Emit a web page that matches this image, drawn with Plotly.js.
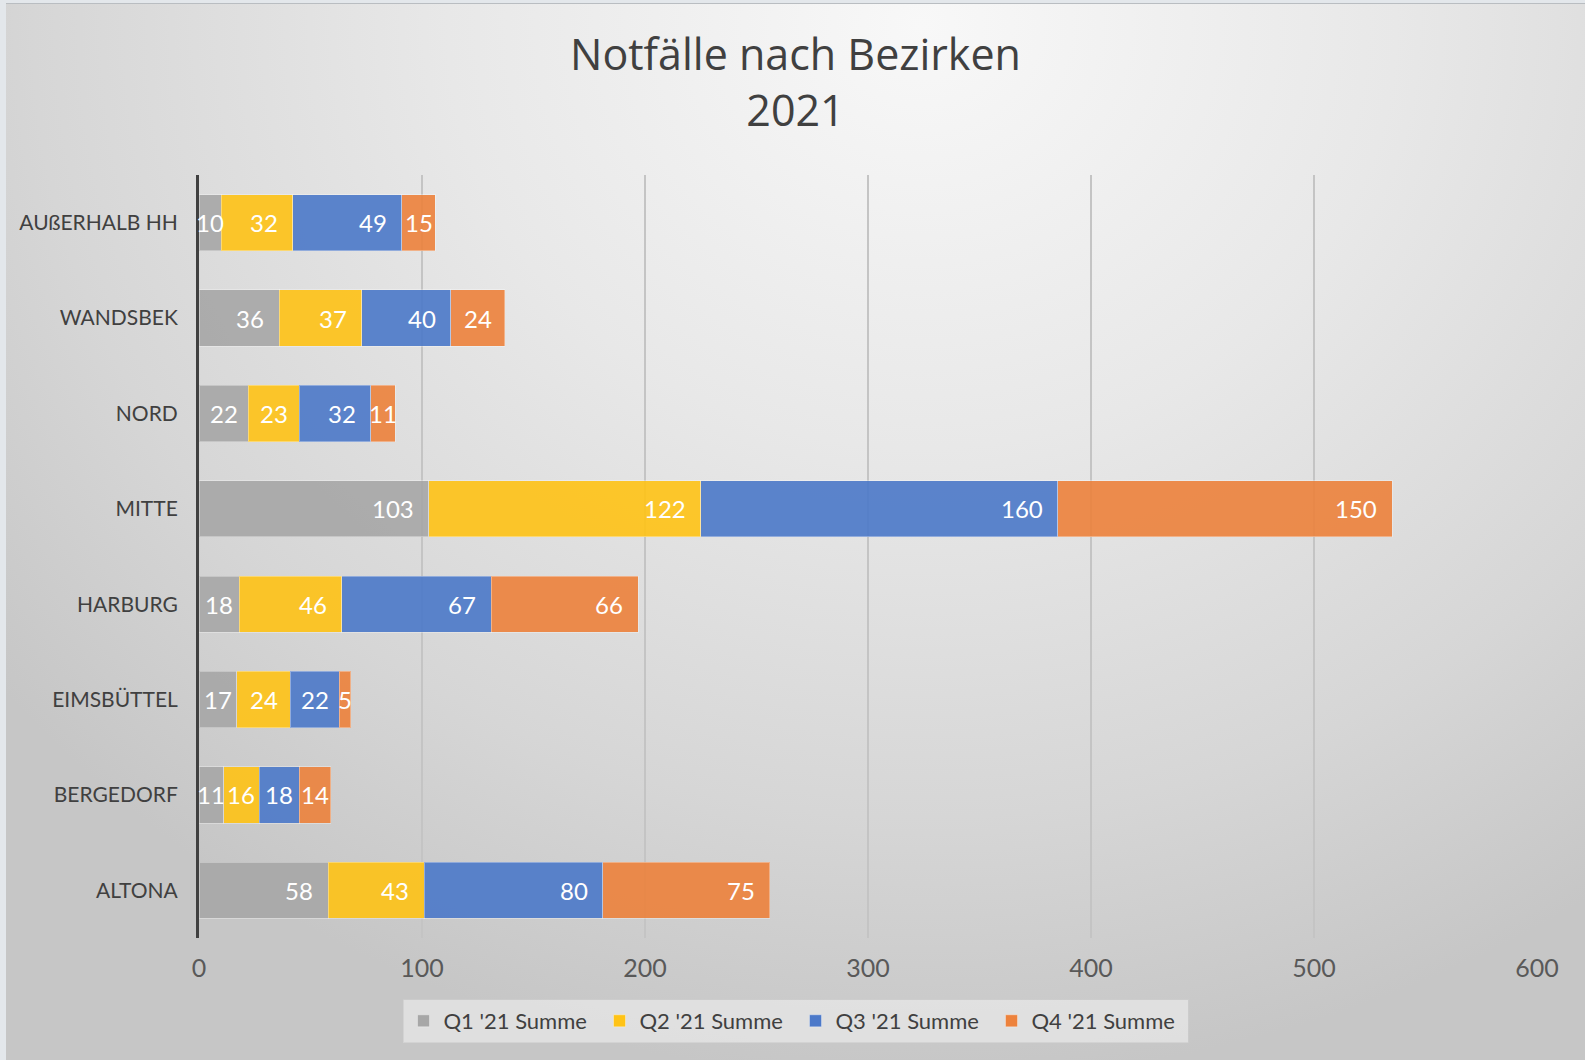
<!DOCTYPE html>
<html><head><meta charset="utf-8">
<script src="https://cdn.plot.ly/plotly-3.0.1.min.js"></script>
<style>
html,body{margin:0;padding:0;width:1585px;height:1060px;overflow:hidden;background:#e3e7eb;}
#frame{position:absolute;left:6px;top:4px;width:1579px;height:1056px;
background: radial-gradient(ellipse 75% 100% at 58% 2%, #f8f8f8 0%, #e8e8e8 40%, #d6d6d6 75%, #c6c6c6 100%);}
#topline{position:absolute;left:6px;top:3px;width:1579px;height:1px;background:#b9bdc1;}
#chart{position:absolute;left:6px;top:4px;width:1579px;height:1056px;}
</style></head>
<body><div id="frame"></div><div id="topline"></div><div id="chart"></div>
<script>
const districts = ['ALTONA','BERGEDORF','EIMSBÜTTEL','HARBURG','MITTE','NORD','WANDSBEK','AUßERHALB HH'];
const q1 = [58, 11, 17, 18, 103, 22, 36, 10];
const q2 = [43, 16, 24, 46, 122, 23, 37, 32];
const q3 = [80, 18, 22, 67, 160, 32, 40, 49];
const q4 = [75, 14, 5, 66, 150, 11, 24, 15];
const seriesNames = ["Q1 '21 Summe", "Q2 '21 Summe", "Q3 '21 Summe", "Q4 '21 Summe"];
const xTickVals = [0, 100, 200, 300, 400, 500, 600];
const chartTitle = 'Notfälle nach Bezirken<br>2021';

const seriesColors = ['#a7a7a7', '#ffc316', '#4c79c9', '#ed823c'];
const FONT = 'Lato, sans-serif';
const W = 1579, H = 1056;
const M = {l: 193, r: 48, t: 171, b: 122};
const pxPerUnit = (W - M.l - M.r) / 600;
const PAD = 15, DIGIT = 12.5;

const allSeries = [q1, q2, q3, q4];
const traces = allSeries.map((vals, i) => ({
  type: 'bar', orientation: 'h', y: districts, x: vals, name: seriesNames[i],
  marker: {color: seriesColors[i], opacity: 0.9, line: {color: 'rgba(255,255,255,0.35)', width: 1}},
  hoverinfo: 'skip'
}));

const annotations = [];
const cum = districts.map(() => 0);
allSeries.forEach(vals => {
  vals.forEach((v, j) => {
    const start = cum[j], end = start + v;
    const barPx = v * pxPerUnit;
    const textW = String(v).length * DIGIT;
    const fits = barPx >= textW + 2 * PAD;
    annotations.push({
      x: fits ? end : start + v / 2, y: districts[j], xref: 'x', yref: 'y',
      text: String(v), showarrow: false,
      xanchor: fits ? 'right' : 'center', xshift: fits ? -PAD + 2 : 0,
      font: {family: FONT, size: 24, color: '#ffffff'}
    });
    cum[j] = end;
  });
});

const layout = {
  width: W, height: H,
  paper_bgcolor: 'rgba(0,0,0,0)', plot_bgcolor: 'rgba(0,0,0,0)',
  margin: M,
  barmode: 'stack', bargap: 0.41,
  title: {text: chartTitle, x: 0.5, xref: 'container', xanchor: 'center',
          y: 1 - 66 / H, yref: 'container', yanchor: 'top',
          font: {family: '"Open Sans", sans-serif', size: 43, color: '#404040'}},
  xaxis: {range: [0, 600], tickvals: xTickVals, showgrid: true, gridcolor: '#c4c4c4', gridwidth: 2,
          zeroline: false, showline: false, ticks: '', ticklabelstandoff: 13,
          tickfont: {family: FONT, size: 25, color: '#595959'}, fixedrange: true},
  yaxis: {type: 'category', categoryorder: 'array', categoryarray: districts,
          showline: true, linecolor: '#404040', linewidth: 3, showgrid: false, zeroline: false,
          ticks: '', ticklabelstandoff: 14,
          tickfont: {family: FONT, size: 21, color: '#404040'}, fixedrange: true},
  legend: {orientation: 'h', traceorder: 'normal', xref: 'container', yref: 'container',
           x: 0.5, xanchor: 'center', y: (H - 1017) / H, yanchor: 'middle',
           entrywidth: 151, entrywidthmode: 'pixels',
           bgcolor: 'rgba(234,234,234,0.7)', bordercolor: 'rgba(205,205,205,0.7)', borderwidth: 1,
           font: {family: FONT, size: 22, color: '#404040'}},
  annotations: annotations,
  showlegend: true
};

Plotly.newPlot('chart', traces, layout, {displayModeBar: false, staticPlot: true});
</script>
</body></html>
